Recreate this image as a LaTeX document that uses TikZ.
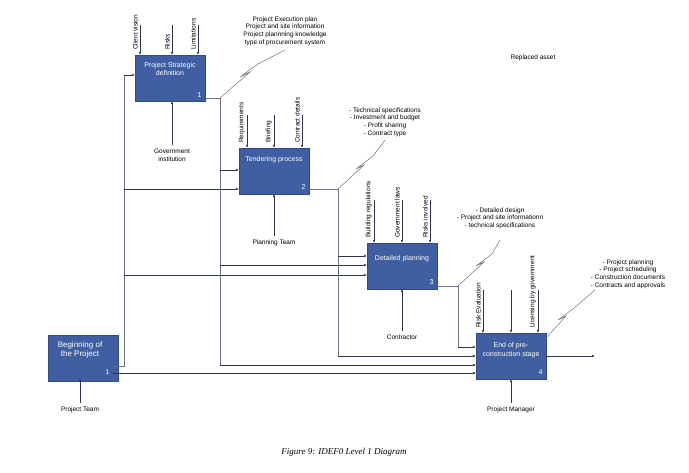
\documentclass[tikz,border=0pt]{standalone}
\usepackage{fontspec}
\setmainfont{Liberation Sans}
\newfontfamily\capfont{Liberation Serif}
\usetikzlibrary{arrows.meta}
\definecolor{boxblue}{HTML}{3F5FA2}
\definecolor{ln}{HTML}{2B3550}
\begin{document}
\begin{tikzpicture}[x=1pt,y=-1pt,
  box/.style={fill=boxblue,draw=boxblue!80!black,text=white,minimum width=70pt,minimum height=46pt,anchor=north west,inner sep=0pt},
  num/.style={text=white,font=\fontsize{7}{8}\selectfont,anchor=south east},
  arr/.style={draw=ln,line width=0.6pt,-{Latex[length=3pt,width=2.5pt]}},
  lnk/.style={draw=ln!70,line width=0.5pt},
  lbl/.style={font=\fontsize{6.5}{7.6}\selectfont,align=center},
  vl/.style={font=\fontsize{6.5}{7.5}\selectfont,rotate=90,anchor=south west,inner sep=1pt},
  bt/.style={font=\fontsize{7}{8.5}\selectfont,align=center,text=white}]
\useasboundingbox (0,0) rectangle (689,472);
% boxes
\node[box] (b0) at (48,335) {};
\node[bt,font=\fontsize{8}{9.5}\selectfont] at (80,350) {Beginning of\\the Project};
\node[num] at (113,378) {1};
\node[box] (b1) at (135,55) {};
\node[bt] at (170,69) {Project Strategic\\definition};
\node[num] at (205,101) {1};
\node[box] (b2) at (239,148) {};
\node[bt] at (274,160) {Tendering process};
\node[num] at (309,193) {2};
\node[box] (b3) at (367,243) {};
\node[bt] at (402,259) {Detailed planning};
\node[num] at (437,288) {3};
\node[box] (b4) at (476,333) {};
\node[bt] at (511,350) {End of pre-\\construction stage};
\node[num] at (546,378) {4};
% coordinates
\coordinate (o0) at (113,366);
\coordinate (j0) at (124,366);
\coordinate (o1) at (205,98);
\coordinate (j1) at (220,98);
\coordinate (o2) at (309,189);
\coordinate (j2) at (338,189);
\coordinate (o3) at (437,286);
\coordinate (j3) at (458,286);
% box0 outputs
\draw[lnk] (o0) -- (j0) -- (124,75);
\draw[arr] (124,75) -- (135,75);
\draw[arr] (124,189) -- (239,189);
\draw[arr] (124,275) -- (367,275);
\draw[arr] (113,373) -- (476,373);
% box1 outputs
\draw[lnk] (o1) -- (j1) -- (220,365);
\draw[arr] (220,170) -- (239,170);
\draw[arr] (220,265) -- (367,265);
\draw[arr] (220,365) -- (476,365);
% box2 outputs
\draw[lnk] (o2) -- (j2) -- (338,356);
\draw[arr] (338,256) -- (367,256);
\draw[arr] (338,356) -- (476,356);
% box3 outputs
\draw[lnk] (o3) -- (j3) -- (458,347);
\draw[arr] (458,347) -- (476,347);
% box4 output
\draw[arr] (546,356) -- (595,356);
% lightnings
\draw[lnk] (j1) -- (250,72) -- (240,77) -- (258,64) -- (285,50);
\draw[lnk] (j2) -- (364,165) -- (356,169) -- (373,156) -- (385,140);
\draw[lnk] (j3) -- (484,262) -- (476,266) -- (492,254) -- (500,240);
\draw[lnk] (546,338) -- (566,316) -- (558,320) -- (574,308) -- (595,290);
% output labels
\node[lbl] at (285,31) {Project Execution plan\\Project and site information\\Project plannning knowledge\\type of procurement system};
\node[lbl] at (385,122) {- Technical specifications\\- Investment and budget\\- Profit sharing\\- Contract type};
\node[lbl] at (500,218) {- Detailed design\\- Project and site informationn\\- technical specifications};
\node[lbl] at (628,274) {- Project planning\\- Project scheduling\\- Construction documents\\- Contracts and approvals};
\node[lbl] at (533,58) {Replaced asset};
% controls
\foreach \x/\y/\t in {140/55/Client vision, 172/55/Risks, 198/55/Limitations,
  247/148/Requirements, 274/148/Briefing, 302/148/Contract details,
  374/243/Building regulations, 402/243/Government laws, 430/243/Risks involved,
  483/333/Risk Evaluation, 538/333/Licensing by government}{
  \node[vl] at (\x-1,\y-4) {\t};
}
\draw[arr] (140,25) -- (140,55);
\draw[arr] (172,25) -- (172,55);
\draw[arr] (198,25) -- (198,55);
\draw[arr] (247,115) -- (247,148);
\draw[arr] (274,115) -- (274,148);
\draw[arr] (302,115) -- (302,148);
\draw[arr] (374,200) -- (374,243);
\draw[arr] (402,200) -- (402,243);
\draw[arr] (430,200) -- (430,243);
\draw[arr] (483,290) -- (483,333);
\draw[arr] (511,290) -- (511,333);
\draw[arr] (538,290) -- (538,333);
% mechanisms
\node[lbl] (m1) at (172,155) {Government\\institution};
\draw[arr] (m1.north) -- (172,101);
\node[lbl] (m2) at (274,243) {Planning Team};
\draw[arr] (m2.north) -- (274,194);
\node[lbl] (m3) at (402,337) {Contractor};
\draw[arr] (m3.north) -- (402,289);
\node[lbl] (m4) at (511,410) {Project Manager};
\draw[arr] (m4.north) -- (511,379);
\node[lbl] (m0) at (80,410) {Project Team};
\draw[arr] (m0.north) -- (80,378);
\node[font=\capfont\itshape\fontsize{9}{10}\selectfont] at (344,452) {Figure 9: IDEF0 Level 1 Diagram};
\end{tikzpicture}
\end{document}
